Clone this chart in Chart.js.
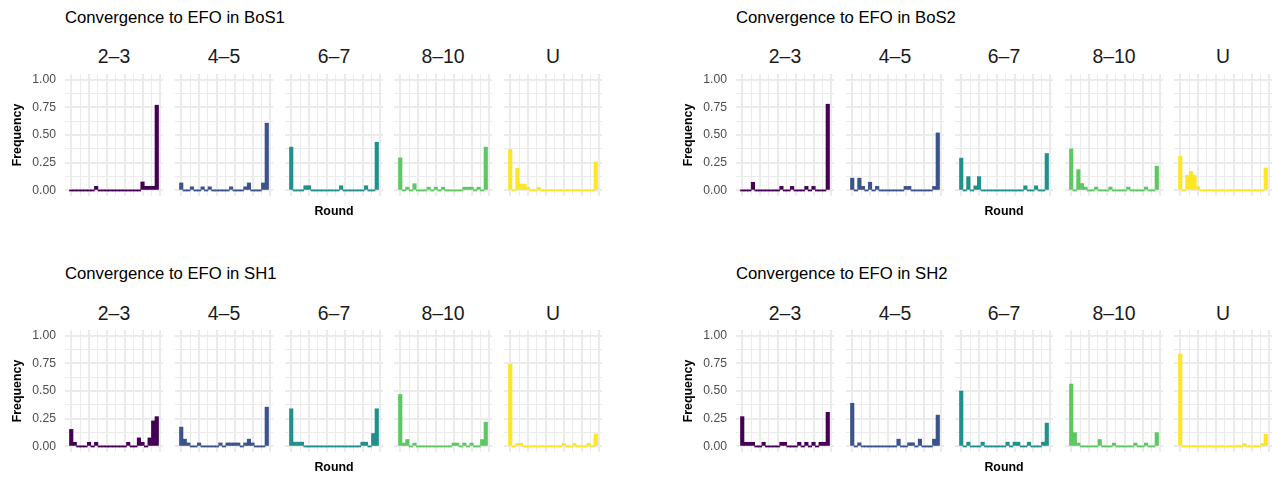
<!DOCTYPE html>
<html>
<head>
<meta charset="utf-8">
<script src="https://cdn.jsdelivr.net/npm/chart.js@4.4.1/dist/chart.umd.min.js"></script>
<style>
  html, body { margin: 0; padding: 0; background: #fff; }
  #stage { position: relative; width: 1272px; height: 477px; overflow: hidden; background: #fff;
           font-family: "Liberation Sans", Arial, sans-serif; }
  #stage canvas { position: absolute; }
  .title { position: absolute; font-size: 16.7px; line-height: 16.7px; color: #000; white-space: nowrap; }
  .strip { position: absolute; font-size: 19.4px; line-height: 19.4px; color: #1A1A1A; text-align: center; white-space: nowrap; }
</style>
</head>
<body>
<div id="stage"></div>
<script>
// Round bins (one bar per round)
const rounds = [0, 1, 2, 3, 4, 5, 6, 7, 8, 9, 10, 11, 12, 13, 14, 15, 16, 17, 18, 19, 20, 21, 22, 23, 24];

// Facet groups and games
const groupLabels = ['2–3', '4–5', '6–7', '8–10', 'U'];
const gameNames = ['BoS1', 'BoS2', 'SH1', 'SH2'];

// Frequency of convergence per round, one row per facet group
const freqBoS1 = [
  [0, 0, 0, 0, 0, 0, 0, .038, 0, 0, 0, 0, 0, 0, 0, 0, 0, 0, 0, 0, .077, .038, .038, .038, .769],
  [.068, 0, 0, .033, 0, 0, .033, 0, .033, 0, 0, 0, 0, 0, .033, 0, 0, 0, .033, .068, 0, 0, 0, .068, .607],
  [.391, 0, 0, 0, .043, .043, 0, 0, 0, 0, 0, 0, 0, 0, .043, 0, 0, 0, 0, 0, 0, .043, 0, 0, .435],
  [.294, 0, .030, 0, .061, 0, 0, 0, .030, 0, .030, 0, .030, 0, 0, 0, 0, 0, .030, .030, .030, 0, .030, 0, .391],
  [.371, 0, .200, .057, .057, .029, 0, 0, .029, 0, 0, 0, 0, 0, 0, 0, 0, 0, 0, 0, 0, 0, 0, 0, .257]
];
const freqBoS2 = [
  [0, 0, 0, .074, 0, 0, 0, 0, 0, 0, 0, .037, 0, 0, .037, 0, 0, 0, .037, 0, .037, 0, 0, 0, .778],
  [.111, 0, .111, .037, 0, .074, 0, .037, 0, 0, 0, 0, 0, 0, 0, .037, .037, 0, 0, 0, 0, 0, 0, .037, .519],
  [.292, 0, .125, 0, .042, .125, 0, 0, 0, 0, 0, 0, 0, 0, 0, 0, 0, 0, .042, 0, 0, .042, 0, 0, .333],
  [.375, 0, .188, .063, .031, 0, 0, .031, 0, 0, 0, .031, 0, 0, 0, 0, .031, 0, 0, 0, 0, .031, 0, 0, .219],
  [.310, 0, .138, .172, .138, .034, 0, 0, 0, 0, 0, 0, 0, 0, 0, 0, 0, 0, 0, 0, 0, 0, 0, 0, .203]
];
const freqSH1 = [
  [.154, .038, 0, 0, 0, .038, 0, .038, 0, 0, 0, 0, 0, 0, 0, 0, .038, 0, 0, .077, .038, 0, .077, .231, .269],
  [.175, .066, .032, 0, 0, .032, 0, 0, 0, 0, 0, .032, 0, .032, .032, .032, .032, 0, .032, .066, .032, 0, 0, 0, .355],
  [.340, .039, .039, .039, 0, 0, 0, 0, 0, 0, 0, 0, 0, 0, 0, 0, 0, 0, 0, 0, .039, .039, 0, .117, .340],
  [.469, .031, .063, 0, .031, 0, 0, 0, 0, 0, 0, 0, 0, 0, 0, .031, .031, 0, .031, 0, .031, 0, 0, .063, .219],
  [.743, 0, .029, .029, 0, 0, 0, 0, 0, 0, 0, 0, 0, 0, 0, .029, 0, 0, .029, 0, 0, 0, .029, 0, .114]
];
const freqSH2 = [
  [.269, .038, .038, .038, 0, 0, .038, 0, 0, 0, 0, .038, .038, 0, 0, 0, .038, 0, .038, 0, .038, 0, .038, .038, .308],
  [.390, 0, .033, 0, 0, 0, 0, 0, 0, 0, 0, 0, 0, .066, 0, 0, .033, .033, 0, .066, 0, 0, 0, .066, .283],
  [.500, 0, .039, 0, 0, 0, .039, 0, 0, 0, 0, 0, 0, .039, 0, .039, .039, 0, 0, .039, 0, 0, 0, .039, .211],
  [.563, .125, .031, 0, 0, 0, 0, 0, .063, 0, 0, 0, .031, 0, 0, 0, 0, 0, .031, 0, 0, .031, 0, 0, .125],
  [.833, 0, 0, 0, 0, 0, 0, 0, 0, 0, 0, 0, 0, 0, 0, 0, 0, 0, .028, 0, 0, 0, 0, .028, .111]
];
const freqByGame = [freqBoS1, freqBoS2, freqSH1, freqSH2];

// Axis breaks
const yMajorTicks = [0, 0.25, 0.5, 0.75, 1];
const yMinorTicks = [0.125, 0.375, 0.625, 0.875];
const xMajorTicks = [0, 5, 10, 15, 20, 25];
const xMinorTicks = [2.5, 7.5, 12.5, 17.5, 22.5];
const Y_LIMITS = [-0.05, 1.05];
const X_LIMITS = [-1.75, 25.75];

// Styling
const palette = ['#440154', '#3B528B', '#21908C', '#5DC863', '#FDE725'];
const GRID = '#EBEBEB';
const FONT = '"Liberation Sans", Arial, sans-serif';

// Layout of the four facet grids
const groupOrigins = [[0, 0], [670.7, 0], [0, 256.4], [670.7, 256.4]];
const PANEL_X0 = 65.3, PANEL_STEP = 109.6, PANEL_W = 98, PANEL_H = 122, PANEL_Y0 = 73.8;
const ROUND_TITLE_H = 24;
const LABEL_GAP = 9;

const stage = document.getElementById('stage');
const yGrid = [...yMajorTicks, ...yMinorTicks].sort((a, b) => a - b);
const xGrid = [...xMajorTicks, ...xMinorTicks].sort((a, b) => a - b);

function gridWidth(value, majors) {
  return majors.includes(value) ? 2 : 1;
}

function addText(cls, text, x, y, w) {
  const d = document.createElement('div');
  d.className = cls;
  d.textContent = text;
  d.style.left = x + 'px';
  d.style.top = y + 'px';
  if (w) d.style.width = w + 'px';
  stage.appendChild(d);
}

function drawFacet(values, color, left, top, yAxisW, xAxisH, showY, showRound) {
  const cv = document.createElement('canvas');
  const w = PANEL_W + yAxisW, h = PANEL_H + xAxisH;
  cv.width = w; cv.height = h;
  cv.style.left = (left - yAxisW) + 'px';
  cv.style.top = top + 'px';
  cv.style.width = w + 'px';
  cv.style.height = h + 'px';
  stage.appendChild(cv);

  new Chart(cv, {
    type: 'bar',
    data: {
      datasets: [{
        data: rounds.map((r, i) => ({ x: r, y: values[i] })),
        backgroundColor: color,
        borderWidth: 0,
        barPercentage: 1,
        categoryPercentage: 1,
        minBarLength: 1.2,
        inflateAmount: 0.3
      }]
    },
    options: {
      responsive: false,
      animation: false,
      events: [],
      layout: { padding: 0 },
      plugins: { legend: { display: false }, tooltip: { enabled: false }, title: { display: false } },
      scales: {
        x: {
          type: 'linear',
          min: X_LIMITS[0],
          max: X_LIMITS[1],
          offset: false,
          afterBuildTicks: s => { s.ticks = xGrid.map(v => ({ value: v })); },
          afterFit: s => { s.height = xAxisH; s.paddingLeft = 0; s.paddingRight = 0; },
          ticks: { display: false, autoSkip: false },
          grid: {
            color: GRID,
            lineWidth: c => gridWidth(c.tick.value, xMajorTicks),
            drawTicks: false,
            offset: false
          },
          border: { display: false },
          title: {
            display: showRound,
            text: 'Round',
            color: '#000',
            font: { family: FONT, size: 12.4, weight: 'bold' },
            padding: { top: 0, bottom: 1 }
          }
        },
        y: {
          type: 'linear',
          min: Y_LIMITS[0],
          max: Y_LIMITS[1],
          afterBuildTicks: s => { s.ticks = yGrid.map(v => ({ value: v })); },
          // panels share one frame: the tick labels may overhang the plot edges
          afterFit: s => { s.width = yAxisW; s.paddingTop = 0; s.paddingBottom = 0; },
          ticks: {
            display: showY,
            autoSkip: false,
            padding: 0,
            color: '#4D4D4D',
            font: { family: FONT, size: 12.2 },
            callback: v => yMajorTicks.includes(v) ? v.toFixed(2) : ''
          },
          grid: {
            color: GRID,
            lineWidth: c => gridWidth(c.tick.value, yMajorTicks),
            drawTicks: showY,
            tickLength: LABEL_GAP,
            tickColor: 'rgba(0,0,0,0)'
          },
          border: { display: false },
          title: {
            display: showY,
            text: 'Frequency',
            color: '#000',
            font: { family: FONT, size: 12.4, weight: 'bold' },
            padding: { top: 10, bottom: 0 }
          }
        }
      }
    }
  });
}

gameNames.forEach((game, g) => {
  const [ox, oy] = groupOrigins[g];
  const gx = Math.round(ox);
  const top = Math.round(oy + PANEL_Y0);
  addText('title', 'Convergence to EFO in ' + game, gx + 65, oy + 9.5);
  groupLabels.forEach((label, j) => {
    const left = Math.round(ox + PANEL_X0 + PANEL_STEP * j);
    addText('strip', label, left, oy + 47.1, PANEL_W);
    const yAxisW = j === 0 ? left - gx : 0;
    const xAxisH = j === 2 ? ROUND_TITLE_H : 0;
    drawFacet(freqByGame[g][j], palette[j], left, top, yAxisW, xAxisH, j === 0, j === 2);
  });
});
</script>
</body>
</html>
